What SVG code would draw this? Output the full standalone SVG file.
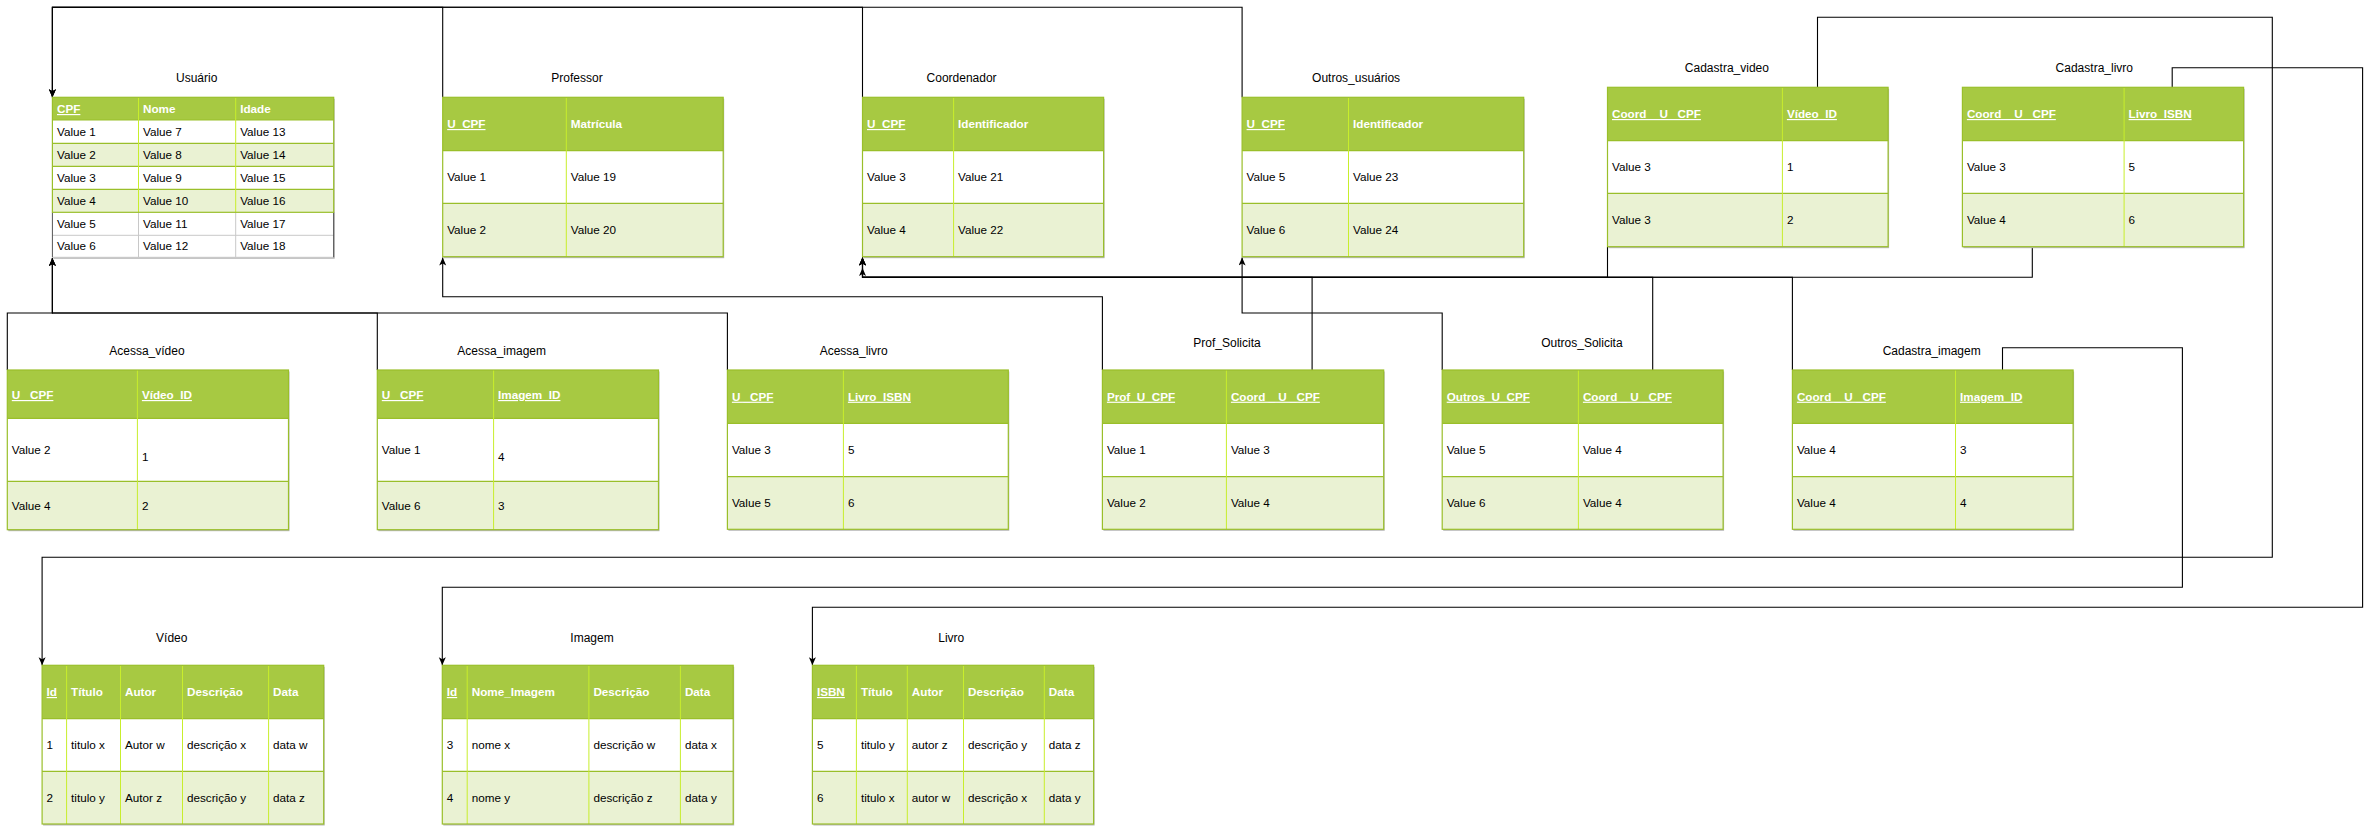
<svg xmlns="http://www.w3.org/2000/svg" width="2371" height="826" viewBox="0 0 2371 826">
<style>
text{font-family:"Liberation Sans",Arial,Helvetica,sans-serif;font-size:11.7px;fill:#000}
.t{font-size:12px;text-anchor:middle}
.h{font-weight:bold;fill:#fff;font-size:11.7px}
.u{text-decoration:underline}
.hdr{fill:#A7C942;stroke:none}
.w{fill:#fff}
.l{fill:#EAF2D3}
.sh{fill:#b8b8b8}
.frame{fill:none;stroke:#9ABF2A;stroke-width:1.2}
.rl{stroke:#9ABF2A;stroke-width:1.2}
.cl{stroke:#C8EE2C;stroke-width:1}
.gl{stroke:#c8c8c8;stroke-width:1}
.e{fill:none;stroke:#000;stroke-width:1.1}
</style>
<defs>
<marker id="a" markerUnits="userSpaceOnUse" markerWidth="9" markerHeight="8" refX="8" refY="3.5" orient="auto">
<path d="M0,0 L8,3.5 L0,7 L2,3.5 z" fill="#000"/>
</marker>
</defs>
<rect width="2371" height="826" fill="#fff"/>

<g id="connectors">
<path class="e" d="M442.7,97.3 V7.3 H52.4 V97.3" marker-end="url(#a)"/>
<path class="e" d="M862.5,97.3 V7.3 H52.4 V97.3" marker-end="url(#a)"/>
<path class="e" d="M1242.1,97.3 V7.3 H52.4 V97.3" marker-end="url(#a)"/>
<path class="e" d="M7.3,370 V313 H52.4 V258" marker-end="url(#a)"/>
<path class="e" d="M377.3,370 V313 H52.4 V258" marker-end="url(#a)"/>
<path class="e" d="M727.4,370 V313 H52.4 V258" marker-end="url(#a)"/>
<path class="e" d="M1102.4,370 V296.7 H442.7 V257.5" marker-end="url(#a)"/>
<path class="e" d="M1312.1,370 V277.3 H862.5 V268" marker-end="url(#a)"/>
<path class="e" d="M1442.2,370 V313 H1242.1 V257.5" marker-end="url(#a)"/>
<path class="e" d="M1652.7,370 V277.3 H862.5 V257.5" marker-end="url(#a)"/>
<path class="e" d="M1607.5,246.7 V277.3 H862.5 V257.5" marker-end="url(#a)"/>
<path class="e" d="M2032.3,246.7 V277.3 H862.5 V257.5" marker-end="url(#a)"/>
<path class="e" d="M1792.4,370 V277.3 H862.5 V257.5" marker-end="url(#a)"/>
<path class="e" d="M1817.5,87.3 V17.3 H2272.3 V557.3 H42.1 V665.3" marker-end="url(#a)"/>
<path class="e" d="M2002.5,370 V347.7 H2182.4 V587.3 H442.3 V665.3" marker-end="url(#a)"/>
<path class="e" d="M2172.2,87.3 V67.7 H2362.6 V607.3 H812.4 V665.3" marker-end="url(#a)"/>
</g>

<g id="usuario">
<text class="t" x="196.7" y="82">Usuário</text>
<rect class="sh" x="53.4" y="98.8" width="281.3" height="160"/>
<rect class="hdr" x="52.4" y="97.3" width="281.3" height="22.7"/>
<rect class="w" x="52.4" y="120" width="281.3" height="23.3"/>
<rect class="l" x="52.4" y="143.3" width="281.3" height="23"/>
<rect class="w" x="52.4" y="166.3" width="281.3" height="23"/>
<rect class="l" x="52.4" y="189.3" width="281.3" height="23"/>
<rect class="w" x="52.4" y="212.3" width="281.3" height="45"/>
<line class="gl" x1="52.4" y1="235.3" x2="333.7" y2="235.3"/>
<line class="gl" x1="52.4" y1="257.3" x2="333.7" y2="257.3"/>
<line class="gl" x1="138.5" y1="212.3" x2="138.5" y2="257.3"/>
<line class="gl" x1="235.7" y1="212.3" x2="235.7" y2="257.3"/>
<line x1="52.4" y1="212.3" x2="52.4" y2="257.3" stroke="#555"/>
<line x1="333.7" y1="212.3" x2="333.7" y2="257.3" stroke="#444"/>
<line class="rl" x1="52.4" y1="120" x2="333.7" y2="120"/>
<line class="rl" x1="52.4" y1="143.3" x2="333.7" y2="143.3"/>
<line class="rl" x1="52.4" y1="166.3" x2="333.7" y2="166.3"/>
<line class="rl" x1="52.4" y1="189.3" x2="333.7" y2="189.3"/>
<line class="cl" x1="138.5" y1="97.3" x2="138.5" y2="212.3"/>
<line class="cl" x1="235.7" y1="97.3" x2="235.7" y2="212.3"/>
<rect class="frame" x="52.4" y="97.3" width="281.3" height="115"/>
<text class="h u" x="57" y="113">CPF</text>
<text class="h" x="143" y="113">Nome</text>
<text class="h" x="240.2" y="113">Idade</text>
<text x="57" y="135.8">Value 1</text><text x="143" y="135.8">Value 7</text><text x="240.2" y="135.8">Value 13</text>
<text x="57" y="158.8">Value 2</text><text x="143" y="158.8">Value 8</text><text x="240.2" y="158.8">Value 14</text>
<text x="57" y="181.8">Value 3</text><text x="143" y="181.8">Value 9</text><text x="240.2" y="181.8">Value 15</text>
<text x="57" y="204.8">Value 4</text><text x="143" y="204.8">Value 10</text><text x="240.2" y="204.8">Value 16</text>
<text x="57" y="227.8">Value 5</text><text x="143" y="227.8">Value 11</text><text x="240.2" y="227.8">Value 17</text>
<text x="57" y="250.3">Value 6</text><text x="143" y="250.3">Value 12</text><text x="240.2" y="250.3">Value 18</text>
</g>

<g id="professor">
<text class="t" x="577" y="82">Professor</text>
<rect class="sh" x="443.7" y="98.8" width="280.5" height="159.4"/>
<rect class="hdr" x="442.7" y="97.3" width="280.5" height="53.4"/>
<rect class="w" x="442.7" y="150.7" width="280.5" height="52.6"/>
<rect class="l" x="442.7" y="203.3" width="280.5" height="53.4"/>
<line class="rl" x1="442.7" y1="150.7" x2="723.2" y2="150.7"/>
<line class="rl" x1="442.7" y1="203.3" x2="723.2" y2="203.3"/>
<line class="cl" x1="566.3" y1="97.3" x2="566.3" y2="256.7"/>
<rect class="frame" x="442.7" y="97.3" width="280.5" height="159.4"/>
<text class="h u" x="447.2" y="128">U_CPF</text><text class="h" x="570.8" y="128">Matrícula</text>
<text x="447.2" y="181">Value 1</text><text x="570.8" y="181">Value 19</text>
<text x="447.2" y="234">Value 2</text><text x="570.8" y="234">Value 20</text>
</g>

<g id="coordenador">
<text class="t" x="961.6" y="82">Coordenador</text>
<rect class="sh" x="863.5" y="98.8" width="241.1" height="159.4"/>
<rect class="hdr" x="862.5" y="97.3" width="241.1" height="53.4"/>
<rect class="w" x="862.5" y="150.7" width="241.1" height="52.6"/>
<rect class="l" x="862.5" y="203.3" width="241.1" height="53.4"/>
<line class="rl" x1="862.5" y1="150.7" x2="1103.6" y2="150.7"/>
<line class="rl" x1="862.5" y1="203.3" x2="1103.6" y2="203.3"/>
<line class="cl" x1="953.6" y1="97.3" x2="953.6" y2="256.7"/>
<rect class="frame" x="862.5" y="97.3" width="241.1" height="159.4"/>
<text class="h u" x="867" y="128">U_CPF</text><text class="h" x="958.1" y="128">Identificador</text>
<text x="867" y="181">Value 3</text><text x="958.1" y="181">Value 21</text>
<text x="867" y="234">Value 4</text><text x="958.1" y="234">Value 22</text>
</g>

<g id="outros_usuarios">
<text class="t" x="1356.1" y="82">Outros_usuários</text>
<rect class="sh" x="1243.1" y="98.8" width="281.6" height="159.4"/>
<rect class="hdr" x="1242.1" y="97.3" width="281.6" height="53.4"/>
<rect class="w" x="1242.1" y="150.7" width="281.6" height="52.6"/>
<rect class="l" x="1242.1" y="203.3" width="281.6" height="53.4"/>
<line class="rl" x1="1242.1" y1="150.7" x2="1523.7" y2="150.7"/>
<line class="rl" x1="1242.1" y1="203.3" x2="1523.7" y2="203.3"/>
<line class="cl" x1="1348.5" y1="97.3" x2="1348.5" y2="256.7"/>
<rect class="frame" x="1242.1" y="97.3" width="281.6" height="159.4"/>
<text class="h u" x="1246.6" y="128">U_CPF</text><text class="h" x="1353" y="128">Identificador</text>
<text x="1246.6" y="181">Value 5</text><text x="1353" y="181">Value 23</text>
<text x="1246.6" y="234">Value 6</text><text x="1353" y="234">Value 24</text>
</g>

<g id="cadastra_video">
<text class="t" x="1726.9" y="72">Cadastra_video</text>
<rect class="sh" x="1608.5" y="88.8" width="280.6" height="159.4"/>
<rect class="hdr" x="1607.5" y="87.3" width="280.6" height="53.4"/>
<rect class="w" x="1607.5" y="140.7" width="280.6" height="52.6"/>
<rect class="l" x="1607.5" y="193.3" width="280.6" height="53.4"/>
<line class="rl" x1="1607.5" y1="140.7" x2="1888.1" y2="140.7"/>
<line class="rl" x1="1607.5" y1="193.3" x2="1888.1" y2="193.3"/>
<line class="cl" x1="1782.4" y1="87.3" x2="1782.4" y2="246.7"/>
<rect class="frame" x="1607.5" y="87.3" width="280.6" height="159.4"/>
<text class="h u" x="1612" y="118" xml:space="preserve">Coord _ U _CPF</text><text class="h u" x="1786.9" y="118">Vídeo_ID</text>
<text x="1612" y="171">Value 3</text><text x="1786.9" y="171">1</text>
<text x="1612" y="224">Value 3</text><text x="1786.9" y="224">2</text>
</g>

<g id="cadastra_livro">
<text class="t" x="2094.3" y="72">Cadastra_livro</text>
<rect class="sh" x="1963.4" y="88.8" width="281.2" height="159.4"/>
<rect class="hdr" x="1962.4" y="87.3" width="281.2" height="53.4"/>
<rect class="w" x="1962.4" y="140.7" width="281.2" height="52.6"/>
<rect class="l" x="1962.4" y="193.3" width="281.2" height="53.4"/>
<line class="rl" x1="1962.4" y1="140.7" x2="2243.6" y2="140.7"/>
<line class="rl" x1="1962.4" y1="193.3" x2="2243.6" y2="193.3"/>
<line class="cl" x1="2124.1" y1="87.3" x2="2124.1" y2="246.7"/>
<rect class="frame" x="1962.4" y="87.3" width="281.2" height="159.4"/>
<text class="h u" x="1966.9" y="118" xml:space="preserve">Coord _ U _CPF</text><text class="h u" x="2128.6" y="118">Livro_ISBN</text>
<text x="1966.9" y="171">Value 3</text><text x="2128.6" y="171">5</text>
<text x="1966.9" y="224">Value 4</text><text x="2128.6" y="224">6</text>
</g>

<g id="acessa_video">
<text class="t" x="146.9" y="355">Acessa_vídeo</text>
<rect class="sh" x="8.3" y="371.5" width="281.2" height="159.7"/>
<rect class="hdr" x="7.3" y="370" width="281.2" height="48.3"/>
<rect class="w" x="7.3" y="418.3" width="281.2" height="63"/>
<rect class="l" x="7.3" y="481.3" width="281.2" height="48.4"/>
<line class="rl" x1="7.3" y1="418.3" x2="288.5" y2="418.3"/>
<line class="rl" x1="7.3" y1="481.3" x2="288.5" y2="481.3"/>
<line class="cl" x1="137.4" y1="370" x2="137.4" y2="529.7"/>
<rect class="frame" x="7.3" y="370" width="281.2" height="159.7"/>
<text class="h u" x="11.8" y="399" xml:space="preserve">U _CPF</text><text class="h u" x="141.9" y="399">Vídeo_ID</text>
<text x="11.8" y="454">Value 2</text><text x="141.9" y="460.7">1</text>
<text x="11.8" y="510">Value 4</text><text x="141.9" y="510">2</text>
</g>

<g id="acessa_imagem">
<text class="t" x="501.7" y="355">Acessa_imagem</text>
<rect class="sh" x="378.3" y="371.5" width="281.2" height="159.7"/>
<rect class="hdr" x="377.3" y="370" width="281.2" height="48.3"/>
<rect class="w" x="377.3" y="418.3" width="281.2" height="63"/>
<rect class="l" x="377.3" y="481.3" width="281.2" height="48.4"/>
<line class="rl" x1="377.3" y1="418.3" x2="658.5" y2="418.3"/>
<line class="rl" x1="377.3" y1="481.3" x2="658.5" y2="481.3"/>
<line class="cl" x1="493.6" y1="370" x2="493.6" y2="529.7"/>
<rect class="frame" x="377.3" y="370" width="281.2" height="159.7"/>
<text class="h u" x="381.8" y="399" xml:space="preserve">U _CPF</text><text class="h u" x="498.1" y="399">Imagem_ID</text>
<text x="381.8" y="454">Value 1</text><text x="498.1" y="460.7">4</text>
<text x="381.8" y="510">Value 6</text><text x="498.1" y="510">3</text>
</g>

<g id="acessa_livro">
<text class="t" x="853.7" y="355">Acessa_livro</text>
<rect class="sh" x="728.4" y="371.5" width="280.9" height="159.3"/>
<rect class="hdr" x="727.4" y="370" width="280.9" height="53.3"/>
<rect class="w" x="727.4" y="423.3" width="280.9" height="53.4"/>
<rect class="l" x="727.4" y="476.7" width="280.9" height="52.6"/>
<line class="rl" x1="727.4" y1="423.3" x2="1008.3" y2="423.3"/>
<line class="rl" x1="727.4" y1="476.7" x2="1008.3" y2="476.7"/>
<line class="cl" x1="843.4" y1="370" x2="843.4" y2="529.3"/>
<rect class="frame" x="727.4" y="370" width="280.9" height="159.3"/>
<text class="h u" x="731.9" y="400.7" xml:space="preserve">U _CPF</text><text class="h u" x="847.9" y="400.7">Livro_ISBN</text>
<text x="731.9" y="454">Value 3</text><text x="847.9" y="454">5</text>
<text x="731.9" y="507">Value 5</text><text x="847.9" y="507">6</text>
</g>

<g id="prof_solicita">
<text class="t" x="1227" y="347">Prof_Solicita</text>
<rect class="sh" x="1103.4" y="371.5" width="281.3" height="159.3"/>
<rect class="hdr" x="1102.4" y="370" width="281.3" height="53.3"/>
<rect class="w" x="1102.4" y="423.3" width="281.3" height="53.4"/>
<rect class="l" x="1102.4" y="476.7" width="281.3" height="52.6"/>
<line class="rl" x1="1102.4" y1="423.3" x2="1383.7" y2="423.3"/>
<line class="rl" x1="1102.4" y1="476.7" x2="1383.7" y2="476.7"/>
<line class="cl" x1="1226.4" y1="370" x2="1226.4" y2="529.3"/>
<rect class="frame" x="1102.4" y="370" width="281.3" height="159.3"/>
<text class="h u" x="1106.9" y="400.7">Prof_U_CPF</text><text class="h u" x="1230.9" y="400.7" xml:space="preserve">Coord _ U _CPF</text>
<text x="1106.9" y="454">Value 1</text><text x="1230.9" y="454">Value 3</text>
<text x="1106.9" y="507">Value 2</text><text x="1230.9" y="507">Value 4</text>
</g>

<g id="outros_solicita">
<text class="t" x="1581.9" y="347">Outros_Solicita</text>
<rect class="sh" x="1443.2" y="371.5" width="280.9" height="159.3"/>
<rect class="hdr" x="1442.2" y="370" width="280.9" height="53.3"/>
<rect class="w" x="1442.2" y="423.3" width="280.9" height="53.4"/>
<rect class="l" x="1442.2" y="476.7" width="280.9" height="52.6"/>
<line class="rl" x1="1442.2" y1="423.3" x2="1723.1" y2="423.3"/>
<line class="rl" x1="1442.2" y1="476.7" x2="1723.1" y2="476.7"/>
<line class="cl" x1="1578.4" y1="370" x2="1578.4" y2="529.3"/>
<rect class="frame" x="1442.2" y="370" width="280.9" height="159.3"/>
<text class="h u" x="1446.7" y="400.7">Outros_U_CPF</text><text class="h u" x="1582.9" y="400.7" xml:space="preserve">Coord _ U _CPF</text>
<text x="1446.7" y="454">Value 5</text><text x="1582.9" y="454">Value 4</text>
<text x="1446.7" y="507">Value 6</text><text x="1582.9" y="507">Value 4</text>
</g>

<g id="cadastra_imagem">
<text class="t" x="1931.7" y="355">Cadastra_imagem</text>
<rect class="sh" x="1793.4" y="371.5" width="280.7" height="159.3"/>
<rect class="hdr" x="1792.4" y="370" width="280.7" height="53.3"/>
<rect class="w" x="1792.4" y="423.3" width="280.7" height="53.4"/>
<rect class="l" x="1792.4" y="476.7" width="280.7" height="52.6"/>
<line class="rl" x1="1792.4" y1="423.3" x2="2073.1" y2="423.3"/>
<line class="rl" x1="1792.4" y1="476.7" x2="2073.1" y2="476.7"/>
<line class="cl" x1="1955.5" y1="370" x2="1955.5" y2="529.3"/>
<rect class="frame" x="1792.4" y="370" width="280.7" height="159.3"/>
<text class="h u" x="1796.9" y="400.7" xml:space="preserve">Coord _ U _CPF</text><text class="h u" x="1960" y="400.7">Imagem_ID</text>
<text x="1796.9" y="454">Value 4</text><text x="1960" y="454">3</text>
<text x="1796.9" y="507">Value 4</text><text x="1960" y="507">4</text>
</g>

<g id="video">
<text class="t" x="171.8" y="642">Vídeo</text>
<rect class="sh" x="43.1" y="666.8" width="281.6" height="158.7"/>
<rect class="hdr" x="42.1" y="665.3" width="281.6" height="53.4"/>
<rect class="w" x="42.1" y="718.7" width="281.6" height="52.6"/>
<rect class="l" x="42.1" y="771.3" width="281.6" height="52.7"/>
<line class="rl" x1="42.1" y1="718.7" x2="323.7" y2="718.7"/>
<line class="rl" x1="42.1" y1="771.3" x2="323.7" y2="771.3"/>
<line class="cl" x1="66.6" y1="665.3" x2="66.6" y2="824"/>
<line class="cl" x1="120.5" y1="665.3" x2="120.5" y2="824"/>
<line class="cl" x1="182.5" y1="665.3" x2="182.5" y2="824"/>
<line class="cl" x1="268.6" y1="665.3" x2="268.6" y2="824"/>
<rect class="frame" x="42.1" y="665.3" width="281.6" height="158.7"/>
<text class="h u" x="46.6" y="696">Id</text><text class="h" x="71.1" y="696">Título</text><text class="h" x="125" y="696">Autor</text><text class="h" x="187" y="696">Descrição</text><text class="h" x="273.1" y="696">Data</text>
<text x="46.6" y="749.3">1</text><text x="71.1" y="749.3">titulo x</text><text x="125" y="749.3">Autor w</text><text x="187" y="749.3">descrição x</text><text x="273.1" y="749.3">data w</text>
<text x="46.6" y="802">2</text><text x="71.1" y="802">titulo y</text><text x="125" y="802">Autor z</text><text x="187" y="802">descrição y</text><text x="273.1" y="802">data z</text>
</g>

<g id="imagem">
<text class="t" x="592" y="642">Imagem</text>
<rect class="sh" x="443.3" y="666.8" width="290.9" height="158.7"/>
<rect class="hdr" x="442.3" y="665.3" width="290.9" height="53.4"/>
<rect class="w" x="442.3" y="718.7" width="290.9" height="52.6"/>
<rect class="l" x="442.3" y="771.3" width="290.9" height="52.7"/>
<line class="rl" x1="442.3" y1="718.7" x2="733.2" y2="718.7"/>
<line class="rl" x1="442.3" y1="771.3" x2="733.2" y2="771.3"/>
<line class="cl" x1="467.2" y1="665.3" x2="467.2" y2="824"/>
<line class="cl" x1="588.9" y1="665.3" x2="588.9" y2="824"/>
<line class="cl" x1="680.4" y1="665.3" x2="680.4" y2="824"/>
<rect class="frame" x="442.3" y="665.3" width="290.9" height="158.7"/>
<text class="h u" x="446.8" y="696">Id</text><text class="h" x="471.7" y="696">Nome_Imagem</text><text class="h" x="593.4" y="696">Descrição</text><text class="h" x="684.9" y="696">Data</text>
<text x="446.8" y="749.3">3</text><text x="471.7" y="749.3">nome x</text><text x="593.4" y="749.3">descrição w</text><text x="684.9" y="749.3">data x</text>
<text x="446.8" y="802">4</text><text x="471.7" y="802">nome y</text><text x="593.4" y="802">descrição z</text><text x="684.9" y="802">data y</text>
</g>

<g id="livro">
<text class="t" x="951.3" y="642">Livro</text>
<rect class="sh" x="813.4" y="666.8" width="281.2" height="158.7"/>
<rect class="hdr" x="812.4" y="665.3" width="281.2" height="53.4"/>
<rect class="w" x="812.4" y="718.7" width="281.2" height="52.6"/>
<rect class="l" x="812.4" y="771.3" width="281.2" height="52.7"/>
<line class="rl" x1="812.4" y1="718.7" x2="1093.6" y2="718.7"/>
<line class="rl" x1="812.4" y1="771.3" x2="1093.6" y2="771.3"/>
<line class="cl" x1="856.4" y1="665.3" x2="856.4" y2="824"/>
<line class="cl" x1="907.3" y1="665.3" x2="907.3" y2="824"/>
<line class="cl" x1="963.5" y1="665.3" x2="963.5" y2="824"/>
<line class="cl" x1="1044.3" y1="665.3" x2="1044.3" y2="824"/>
<rect class="frame" x="812.4" y="665.3" width="281.2" height="158.7"/>
<text class="h u" x="816.9" y="696">ISBN</text><text class="h" x="860.9" y="696">Título</text><text class="h" x="911.8" y="696">Autor</text><text class="h" x="968" y="696">Descrição</text><text class="h" x="1048.8" y="696">Data</text>
<text x="816.9" y="749.3">5</text><text x="860.9" y="749.3">titulo y</text><text x="911.8" y="749.3">autor z</text><text x="968" y="749.3">descrição y</text><text x="1048.8" y="749.3">data z</text>
<text x="816.9" y="802">6</text><text x="860.9" y="802">titulo x</text><text x="911.8" y="802">autor w</text><text x="968" y="802">descrição x</text><text x="1048.8" y="802">data y</text>
</g>
</svg>
